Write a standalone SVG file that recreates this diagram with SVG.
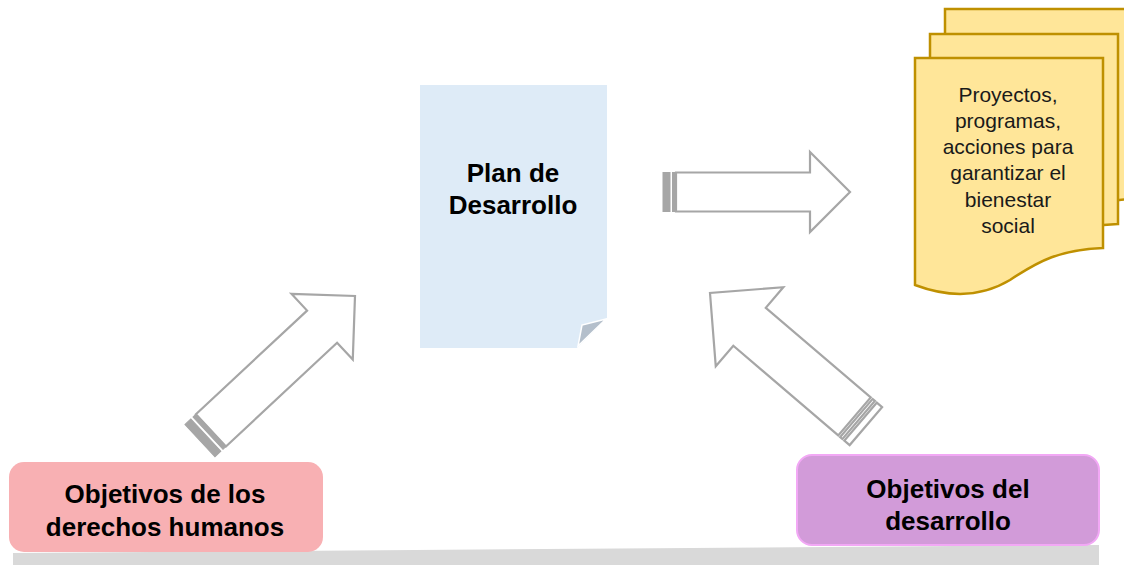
<svg xmlns="http://www.w3.org/2000/svg" width="1124" height="565" viewBox="0 0 1124 565">
<defs>
<style>
.arw{fill:#ffffff;stroke:#a6a6a6;stroke-width:2.2;stroke-linejoin:miter}
.stp{fill:#a6a6a6;stroke:#a6a6a6;stroke-width:1}
.doc{fill:#ffe699;stroke:#bf9000;stroke-width:2.5}
.bt{font-family:"Liberation Sans",Arial,sans-serif;font-weight:bold;font-size:26px;fill:#000;text-anchor:middle}
.rt{font-family:"Liberation Sans",Arial,sans-serif;font-size:21px;fill:#1a1a1a;text-anchor:middle}
</style>
<path id="wdoc" d="M915,58 H1103 V248 C1060,250 1040,260 1010,280 C985,295 955,300 915,285 Z"/>
</defs>
<rect width="1124" height="565" fill="#ffffff"/>
<polygon points="13,553 1099,545 1099,565 13,565" fill="#d9d9d9"/>
<g id="connectors">
<g transform="translate(850,192)">
<polygon class="arw" points="-40,-40 0,0 -40,40 -40,19.5 -174,19.5 -174,-19.5 -40,-19.5"/>
<rect class="stp" x="-187" y="-19.5" width="7" height="39"/>
<rect class="stp" x="-177.5" y="-19.5" width="3.5" height="39"/>
</g>
<g transform="translate(355,296) rotate(-43)">
<polygon class="arw" points="-45,-45 0,0 -45,45 -45,22 -197,22 -197,-22 -45,-22"/>
<rect class="stp" x="-212" y="-22" width="8" height="44"/>
<rect class="stp" x="-201" y="-22" width="4" height="44"/>
</g>
<g transform="translate(710,293) rotate(220.5)">
<polygon class="arw" points="-52,-52 0,0 -52,52 -52,25 -190,25 -190,-25 -52,-25"/>
<rect class="arw" x="-205" y="-25" width="7" height="50"/>
<rect class="arw" x="-195.5" y="-25" width="3" height="50"/>
</g>
</g>
<g id="plan">
<polygon points="420,85 607,85 607,318 577,348 420,348" fill="#deebf7"/>
<polygon points="606,319 582,325 578,346" fill="#b4bfcb" stroke="#ffffff" stroke-width="1.5"/>
<text class="bt" x="513" y="182">Plan de</text>
<text class="bt" x="513" y="214">Desarrollo</text>
</g>
<g id="proyectos">
<use href="#wdoc" class="doc" transform="translate(30,-49)"/>
<use href="#wdoc" class="doc" transform="translate(15,-24)"/>
<use href="#wdoc" class="doc"/>
<text class="rt" x="1008" y="102">Proyectos,</text>
<text class="rt" x="1008" y="128">programas,</text>
<text class="rt" x="1008" y="154">acciones para</text>
<text class="rt" x="1008" y="180">garantizar el</text>
<text class="rt" x="1008" y="207">bienestar</text>
<text class="rt" x="1008" y="233">social</text>
</g>
<g id="derechos">
<rect x="9" y="462" width="314" height="90" rx="15" fill="#f8b0b3"/>
<text class="bt" x="165" y="503">Objetivos de los</text>
<text class="bt" x="165" y="536">derechos humanos</text>
</g>
<g id="desarrollo">
<rect x="797" y="455" width="302" height="90" rx="15" fill="#d29bd9" stroke="#f2a8f5" stroke-width="2"/>
<text class="bt" x="948" y="498">Objetivos del</text>
<text class="bt" x="948" y="530">desarrollo</text>
</g>
</svg>
